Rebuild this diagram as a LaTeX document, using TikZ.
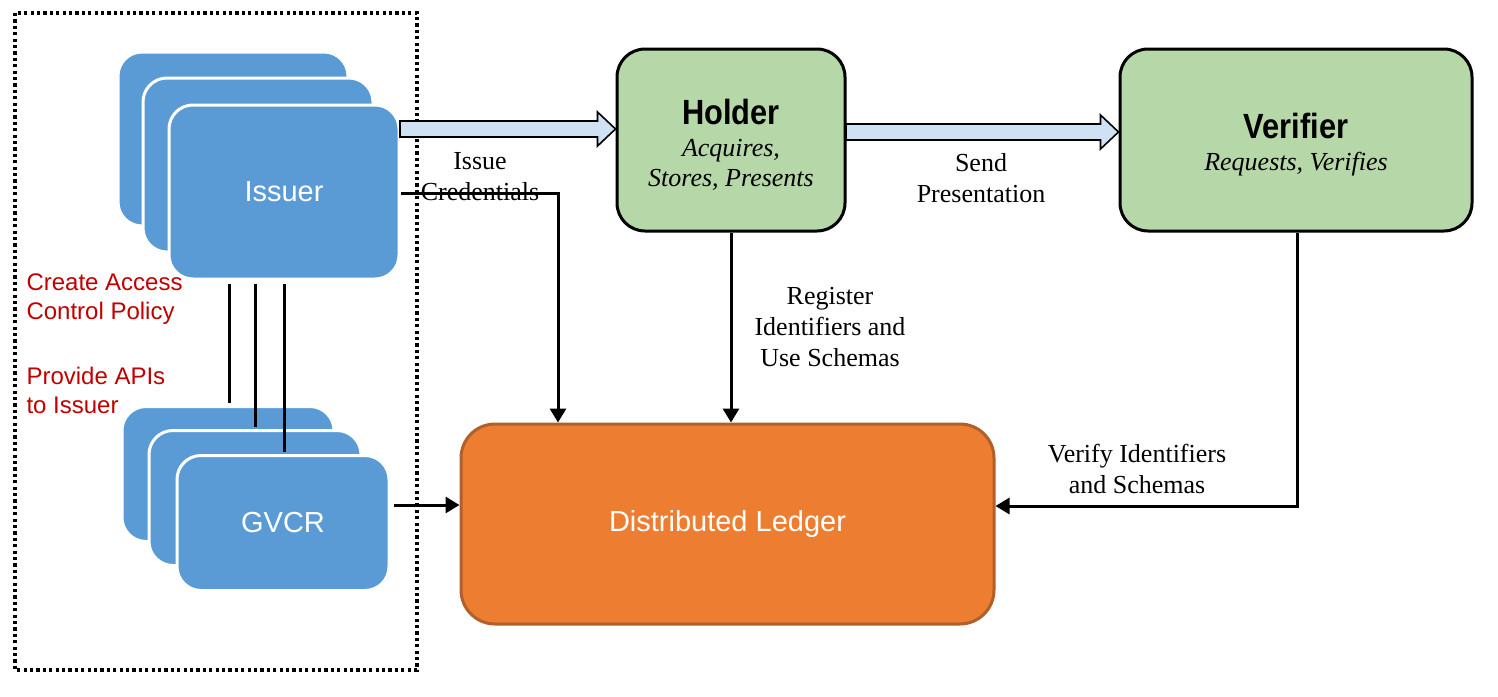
\documentclass[tikz,border=0pt]{standalone}
\usepackage{fontspec}
\setmainfont{Liberation Serif}
\newfontfamily\sansfont{Liberation Sans}
\newfontfamily\headfont[FakeStretch=0.88]{Liberation Sans}
\usetikzlibrary{arrows.meta,calc}

\definecolor{cardblue}{HTML}{5B9BD5}
\definecolor{rolegreen}{HTML}{B6D7A8}
\definecolor{flowblue}{HTML}{CFE2F3}
\definecolor{ledgerorange}{HTML}{ED7D31}
\definecolor{ledgerborder}{HTML}{B0602A}
\definecolor{notered}{HTML}{C00000}

\begin{document}
\begin{tikzpicture}[x=0.5pt, y=-0.5pt,
    line width=1.5pt,
    card/.style = {draw=white, fill=cardblue, rounded corners=12pt, inner sep=0pt,
                   text=white, font=\sansfont\fontsize{14.5}{17}\selectfont},
    issuercard/.style = {card, minimum width=115pt, minimum height=87pt},
    gvcrcard/.style = {card, minimum width=106pt, minimum height=67.5pt},
    role/.style = {draw=black, fill=rolegreen, rounded corners=14pt, inner sep=0pt,
                   minimum height=91pt},
    roletext/.style = {inner sep=0pt, align=center, yshift=-2.5pt,
                       font=\fontsize{13}{15}\selectfont},
    el/.style = {inner sep=1pt, align=center, font=\fontsize{13}{15.5}\selectfont},
    note/.style = {inner sep=0pt, align=left, anchor=west, text=notered,
                   font=\sansfont\fontsize{12}{14.5}\selectfont},
    link/.style = {-{Triangle[length=7pt,width=8pt]}},
    fatarrow/.style = {draw=black, fill=flowblue, line width=0.8pt,
      to path={($(\tikztostart)+(0,-8)$) -- ($(\tikztotarget)+(-18,-8)$)
               -- ($(\tikztotarget)+(-18,-17)$) -- (\tikztotarget)
               -- ($(\tikztotarget)+(-18,17)$) -- ($(\tikztotarget)+(-18,8)$)
               -- ($(\tikztostart)+(0,8)$) -- cycle}}
  ]
  \useasboundingbox (0,0) rectangle (1498,696);

  % issuer side, inside the dotted frame
  \draw[line width=1.6pt, dash pattern=on 1.6pt off 1.6pt] (15,13) rectangle (417,670);

  \node[issuercard] (issuerA) at (233,139) {};
  \node[issuercard] (issuerB) at (258,165) {};
  \node[issuercard] (issuerC) at (284,192) {Issuer};

  \node[gvcrcard]   (gvcrA)   at (228,474) {};
  \node[gvcrcard]   (gvcrB)   at (255,498) {};
  \node[gvcrcard]   (gvcrC)   at (283,523) {GVCR};

  \node[note] (policy) at (25,299) {Create Access\\Control Policy};
  \node[note] (apis)   at (25,390) {Provide APIs\\to Issuer};

  \foreach \card/\x in {gvcrA/229, gvcrB/255, gvcrC/284}
    \draw ($(issuerC.south -| \x,0)+(0,3)$) -- ($(\card.north -| \x,0)+(0,-2)$);

  % roles and ledger
  \node[role, minimum width=114pt] (holder) at (731,140) {};
  \node[roletext] (holderTxt) at (holder)
    {{\headfont\bfseries\fontsize{17.5}{20}\selectfont Holder}\\[1pt]
     \textit{Acquires,}\\\textit{Stores, Presents}};
  \node[role, minimum width=176pt] (verifier) at (1296,140) {};
  \node[roletext] (verifierTxt) at (verifier)
    {{\headfont\bfseries\fontsize{17.5}{20}\selectfont Verifier}\\[1pt]
     \textit{Requests, Verifies}};
  \node[draw=ledgerborder, fill=ledgerorange, rounded corners=17pt,
        minimum width=266.5pt, minimum height=100pt, text=white,
        font=\sansfont\fontsize{14.5}{17}\selectfont] (ledger) at (727.5,524)
    {Distributed Ledger};

  % flows
  \coordinate (issueOut) at (400,129);
  \coordinate (sendOut)  at (846,132);
  \coordinate (credTurn) at (558,193);
  \coordinate (verTurn)  at (1297,506);
  \coordinate (gvcrOut)  at (394,505);

  \path[fatarrow] (issueOut) to (holder.west |- issueOut);
  \path[fatarrow] (sendOut)  to (verifier.west |- sendOut);

  \draw[link] (issuerC.east |- credTurn) -- (credTurn) -- (credTurn |- ledger.north);
  \draw[link] (holder.south) -- (holder.south |- ledger.north);
  \draw[link] (verifier.south -| verTurn) -- (verTurn) -- (verTurn -| ledger.east);
  \draw[link] (gvcrOut) -- (gvcrOut -| ledger.west);

  \node[el] (issueLbl)    at (480,177)  {Issue\\Credentials};
  \node[el] (sendLbl)     at (981,178)  {Send\\Presentation};
  \node[el] (registerLbl) at (830,327)  {Register\\Identifiers and\\Use Schemas};
  \node[el] (verifyLbl)   at (1137,469) {Verify Identifiers\\and Schemas};
\end{tikzpicture}
\end{document}
